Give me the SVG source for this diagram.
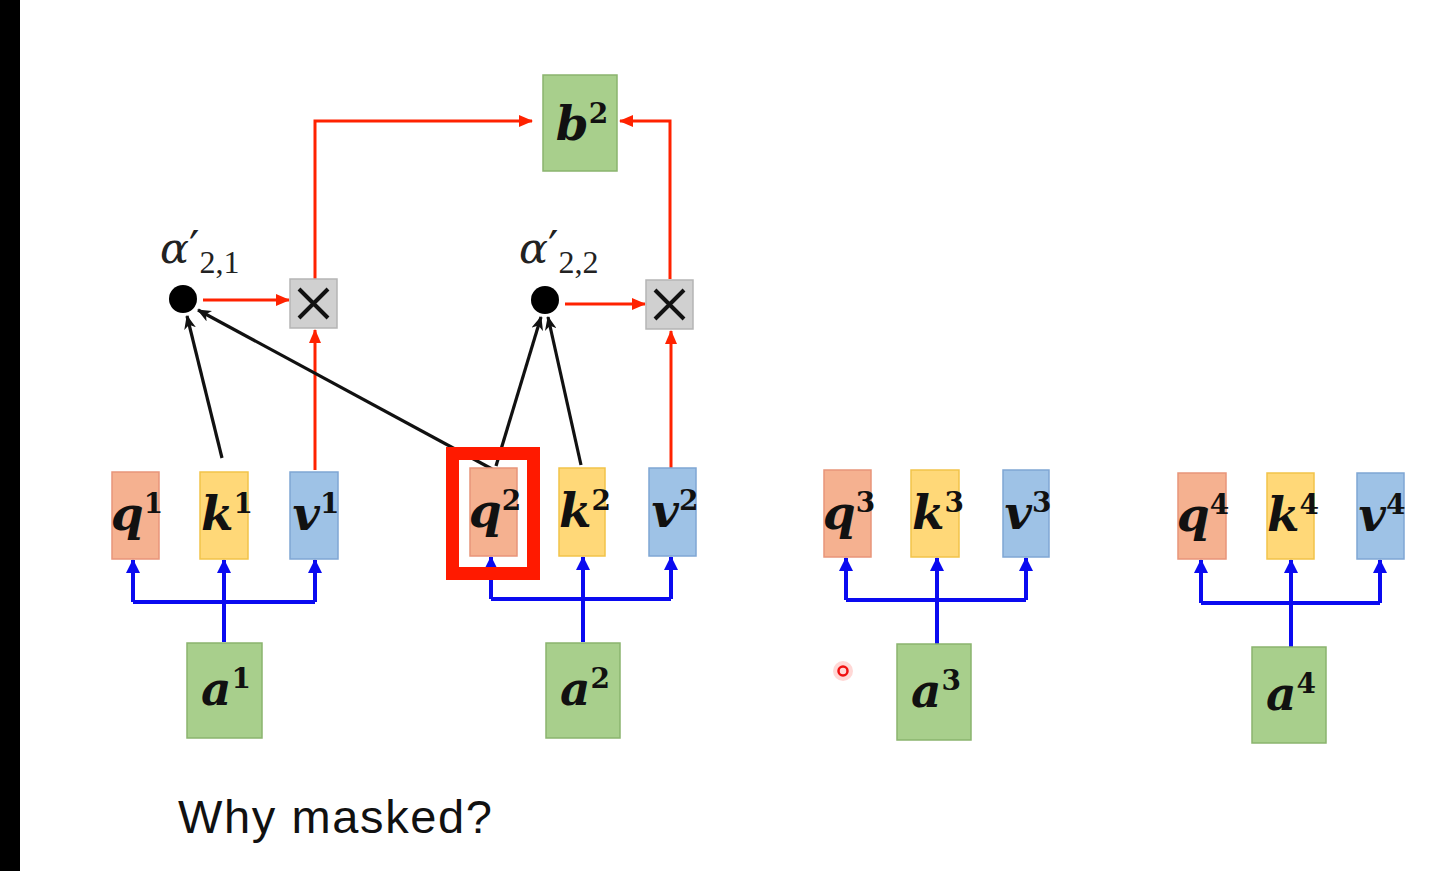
<svg xmlns="http://www.w3.org/2000/svg" width="1441" height="871" viewBox="0 0 1441 871">
<style>
.q{fill:#F5B190;stroke:#E8957A;stroke-width:1.5}
.k{fill:#FFD878;stroke:#F2C34A;stroke-width:1.5}
.v{fill:#9EC2E6;stroke:#7FA6D4;stroke-width:1.5}
.a{fill:#A8CF8C;stroke:#8AB46E;stroke-width:1.5}
.x{fill:#D0D0D0;stroke:#B5B5B5;stroke-width:1.5}
.lbl{font-family:"DejaVu Serif",serif;font-style:italic;font-weight:bold;font-size:47px;fill:#111;text-anchor:middle}
.sup{font-style:normal;font-size:28px}
.alpha{font-family:"DejaVu Serif",serif;font-style:italic;font-size:43px;fill:#222}
.prime{font-style:normal;font-size:46px}
.sub{font-family:"Liberation Serif",serif;font-style:normal;font-size:32px}
.cross{stroke:#111;stroke-width:4;fill:none}
.red{stroke:#FF2200;stroke-width:3;fill:none}
.blue{stroke:#0A0AF0;stroke-width:4;fill:none}
.blk{stroke:#111;stroke-width:3.2;fill:none}
</style>
<defs>
<marker id="ar" markerUnits="userSpaceOnUse" markerWidth="14" markerHeight="12" refX="13" refY="6" orient="auto"><path d="M0,0 L14,6 L0,12 Z" fill="#FF2200"/></marker>
<marker id="ab" markerUnits="userSpaceOnUse" markerWidth="14" markerHeight="14" refX="13" refY="7" orient="auto"><path d="M0,0 L14,7 L0,14 Z" fill="#0A0AF0"/></marker>
<marker id="ak" markerUnits="userSpaceOnUse" markerWidth="14" markerHeight="12" refX="13" refY="6" orient="auto"><path d="M0,0 L14,6 L0,12 L4,6 Z" fill="#111"/></marker>
</defs>
<rect x="0" y="0" width="1441" height="871" fill="#FFFFFF"/>
<rect x="0" y="0" width="20" height="871" fill="#000000"/>

<g id="connectors">
<path class="blue" d="M224,642 V602 M133,602 H315" />
<path class="blue" d="M133,602 V560" marker-end="url(#ab)"/>
<path class="blue" d="M224,602 V560" marker-end="url(#ab)"/>
<path class="blue" d="M315,602 V560" marker-end="url(#ab)"/>
<path class="blue" d="M583,642 V599 M491,599 H671" />
<path class="blue" d="M491,599 V557" marker-end="url(#ab)"/>
<path class="blue" d="M583,599 V557" marker-end="url(#ab)"/>
<path class="blue" d="M671,599 V557" marker-end="url(#ab)"/>
<path class="blue" d="M937,644 V600 M846,600 H1026" />
<path class="blue" d="M846,600 V558" marker-end="url(#ab)"/>
<path class="blue" d="M937,600 V558" marker-end="url(#ab)"/>
<path class="blue" d="M1026,600 V558" marker-end="url(#ab)"/>
<path class="blue" d="M1291,647 V603 M1201,603 H1380" />
<path class="blue" d="M1201,603 V560" marker-end="url(#ab)"/>
<path class="blue" d="M1291,603 V560" marker-end="url(#ab)"/>
<path class="blue" d="M1380,603 V560" marker-end="url(#ab)"/>
<path class="red" d="M315,470 V330" marker-end="url(#ar)"/>
<path class="red" d="M671,468 V331" marker-end="url(#ar)"/>
<path class="red" d="M203,300 H289" marker-end="url(#ar)"/>
<path class="red" d="M565,304 H645" marker-end="url(#ar)"/>
<path class="red" d="M315,279 V121 H532" marker-end="url(#ar)"/>
<path class="red" d="M670,279 V121 H620" marker-end="url(#ar)"/>
<path class="blk" d="M222,458 L187,316" marker-end="url(#ak)"/>
<path class="blk" d="M492,469 L198,310" marker-end="url(#ak)"/>
<path class="blk" d="M496,466 L541,317" marker-end="url(#ak)"/>
<path class="blk" d="M581,465 L548,317" marker-end="url(#ak)"/>
</g>

<g id="b2"><rect class="a" x="543" y="75" width="74" height="96"/><text class="lbl" x="582" y="140">b<tspan class="sup" dy="-17">2</tspan></text></g>

<g id="alpha21"><circle cx="183" cy="299" r="14" fill="#000"/>
<text class="alpha" x="160" y="263">α<tspan class="prime" dy="1">′</tspan><tspan class="sub" dy="9">2,1</tspan></text></g>
<g id="alpha22"><circle cx="545" cy="300" r="14" fill="#000"/>
<text class="alpha" x="519" y="263">α<tspan class="prime" dy="1">′</tspan><tspan class="sub" dy="9">2,2</tspan></text></g>

<g id="mul1"><rect class="x" x="290" y="279" width="47" height="49"/><path class="cross" d="M299,289 L328,318 M328,289 L299,318"/></g>
<g id="mul2"><rect class="x" x="646" y="280" width="47" height="49"/><path class="cross" d="M655,290 L684,319 M684,290 L655,319"/></g>

<g id="q1"><rect class="q" x="112" y="472" width="47" height="87"/><text class="lbl" x="137" y="530">q<tspan class="sup" dy="-17">1</tspan></text></g>
<g id="k1"><rect class="k" x="200" y="472" width="48" height="87"/><text class="lbl" x="227" y="530">k<tspan class="sup" dy="-17">1</tspan></text></g>
<g id="v1"><rect class="v" x="290" y="472" width="48" height="87"/><text class="lbl" x="316" y="530">v<tspan class="sup" dy="-17">1</tspan></text></g>

<g id="q2"><rect class="q" x="470" y="468" width="47" height="88"/><text class="lbl" x="495" y="527">q<tspan class="sup" dy="-17">2</tspan></text></g>
<g id="k2"><rect class="k" x="559" y="468" width="46" height="88"/><text class="lbl" x="585" y="527">k<tspan class="sup" dy="-17">2</tspan></text></g>
<g id="v2"><rect class="v" x="649" y="468" width="47" height="88"/><text class="lbl" x="675" y="527">v<tspan class="sup" dy="-17">2</tspan></text></g>
<g id="highlight"><rect x="452.5" y="453.5" width="81" height="120" fill="none" stroke="#FF1A00" stroke-width="13"/></g>

<g id="q3"><rect class="q" x="824" y="470" width="47" height="87"/><text class="lbl" x="849" y="529">q<tspan class="sup" dy="-17">3</tspan></text></g>
<g id="k3"><rect class="k" x="911" y="470" width="48" height="87"/><text class="lbl" x="938" y="529">k<tspan class="sup" dy="-17">3</tspan></text></g>
<g id="v3"><rect class="v" x="1003" y="470" width="46" height="87"/><text class="lbl" x="1028" y="529">v<tspan class="sup" dy="-17">3</tspan></text></g>

<g id="q4"><rect class="q" x="1178" y="473" width="48" height="86"/><text class="lbl" x="1203" y="531">q<tspan class="sup" dy="-17">4</tspan></text></g>
<g id="k4"><rect class="k" x="1267" y="473" width="47" height="86"/><text class="lbl" x="1293" y="531">k<tspan class="sup" dy="-17">4</tspan></text></g>
<g id="v4"><rect class="v" x="1357" y="473" width="47" height="86"/><text class="lbl" x="1382" y="531">v<tspan class="sup" dy="-17">4</tspan></text></g>

<g id="a1"><rect class="a" x="187" y="643" width="75" height="95"/><text class="lbl" x="226" y="705">a<tspan class="sup" dy="-17">1</tspan></text></g>
<g id="a2"><rect class="a" x="546" y="643" width="74" height="95"/><text class="lbl" x="585" y="705">a<tspan class="sup" dy="-17">2</tspan></text></g>
<g id="a3"><rect class="a" x="897" y="644" width="74" height="96"/><text class="lbl" x="936" y="707">a<tspan class="sup" dy="-17">3</tspan></text></g>
<g id="a4"><rect class="a" x="1252" y="647" width="74" height="96"/><text class="lbl" x="1291" y="710">a<tspan class="sup" dy="-17">4</tspan></text></g>

<g id="pointer"><circle cx="843" cy="671" r="10" fill="#FF3B30" opacity="0.2"/><circle cx="843" cy="671" r="4.5" fill="none" stroke="#F01010" stroke-width="2.5"/></g>

<text x="178" y="833" textLength="314" style="font-family:'Liberation Sans',sans-serif;font-size:47px;fill:#111">Why masked?</text>
</svg>
